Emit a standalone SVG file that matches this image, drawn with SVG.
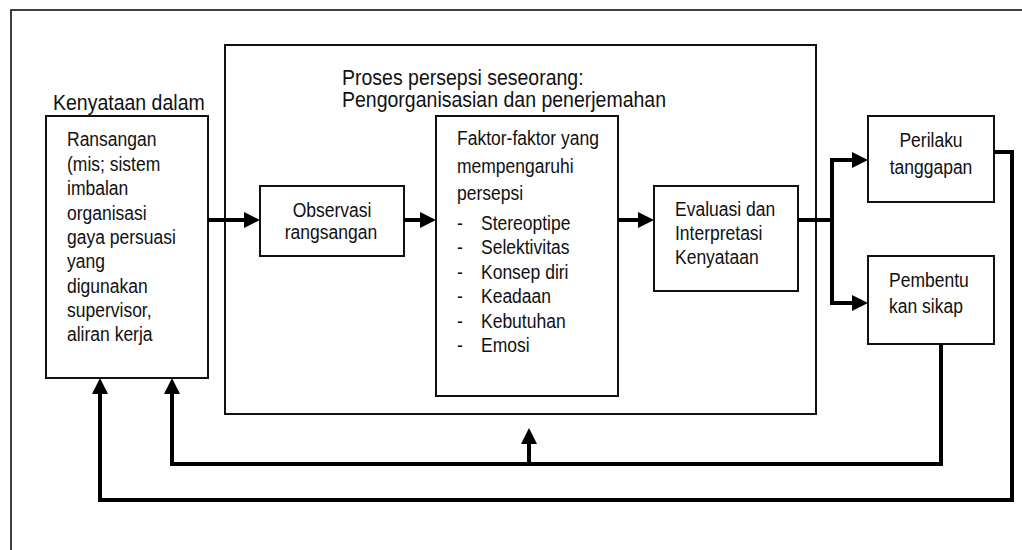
<svg xmlns="http://www.w3.org/2000/svg" width="1022" height="550" viewBox="0 0 1022 550">
<defs>
<style>
.box{fill:#fff;stroke:#111;stroke-width:2}
.frame{fill:none;stroke:#111;stroke-width:1.6}
.t{font-family:"Liberation Sans",Arial,sans-serif;font-size:20px;fill:#111}
.h{font-family:"Liberation Sans",Arial,sans-serif;font-size:21.5px;fill:#111}
.c{fill:none;stroke:#000;stroke-width:4;stroke-linejoin:miter}
.m{text-anchor:middle}
</style>
<marker id="ah" markerUnits="userSpaceOnUse" markerWidth="16" markerHeight="18" refX="0" refY="8" orient="auto" viewBox="0 0 16 16" overflow="visible">
<path d="M0,0 L16,8 L0,16 z" fill="#000"/>
</marker>
</defs>
<rect width="1022" height="550" fill="#fff"/>
<rect class="frame" x="11" y="10" width="1100" height="600"/>

<g id="process">
<rect class="box" x="225" y="45" width="591" height="369"/>
<text class="h" transform="translate(342,85) scale(.907,1)">Proses persepsi seseorang:</text>
<text class="h" transform="translate(342,107) scale(.907,1)">Pengorganisasian dan penerjemahan</text>
</g>

<g id="kenyataan">
<text class="h" transform="translate(53,110) scale(.907,1)">Kenyataan dalam</text>
<rect class="box" x="46" y="116" width="162" height="262"/>
<text class="t" transform="translate(67,146) scale(.875,1)">Ransangan</text>
<text class="t" transform="translate(67,170.5) scale(.875,1)">(mis; sistem</text>
<text class="t" transform="translate(67,195) scale(.875,1)">imbalan</text>
<text class="t" transform="translate(67,219.5) scale(.875,1)">organisasi</text>
<text class="t" transform="translate(67,244) scale(.875,1)">gaya persuasi</text>
<text class="t" transform="translate(67,268) scale(.875,1)">yang</text>
<text class="t" transform="translate(67,292.5) scale(.875,1)">digunakan</text>
<text class="t" transform="translate(67,317) scale(.875,1)">supervisor,</text>
<text class="t" transform="translate(67,341) scale(.875,1)">aliran kerja</text>
</g>

<g id="observasi">
<rect class="box" x="260" y="186" width="144" height="70"/>
<text class="t m" transform="translate(332,216.5) scale(.875,1)">Observasi</text>
<text class="t m" transform="translate(331,239) scale(.875,1)">rangsangan</text>
</g>

<g id="faktor">
<rect class="box" x="436" y="116" width="182" height="280"/>
<text class="t" transform="translate(457,145) scale(.875,1)">Faktor-faktor yang</text>
<text class="t" transform="translate(457,173) scale(.875,1)">mempengaruhi</text>
<text class="t" transform="translate(457,200) scale(.875,1)">persepsi</text>
<text class="t" transform="translate(457,230) scale(.875,1)">-</text><text class="t" transform="translate(481,230) scale(.875,1)">Stereoptipe</text>
<text class="t" transform="translate(457,254) scale(.875,1)">-</text><text class="t" transform="translate(481,254) scale(.875,1)">Selektivitas</text>
<text class="t" transform="translate(457,278.5) scale(.875,1)">-</text><text class="t" transform="translate(481,278.5) scale(.875,1)">Konsep diri</text>
<text class="t" transform="translate(457,303) scale(.875,1)">-</text><text class="t" transform="translate(481,303) scale(.875,1)">Keadaan</text>
<text class="t" transform="translate(457,327.5) scale(.875,1)">-</text><text class="t" transform="translate(481,327.5) scale(.875,1)">Kebutuhan</text>
<text class="t" transform="translate(457,352) scale(.875,1)">-</text><text class="t" transform="translate(481,352) scale(.875,1)">Emosi</text>
</g>

<g id="evaluasi">
<rect class="box" x="654" y="186" width="144" height="105"/>
<text class="t" transform="translate(675,216) scale(.875,1)">Evaluasi dan</text>
<text class="t" transform="translate(675,240) scale(.875,1)">Interpretasi</text>
<text class="t" transform="translate(675,264) scale(.875,1)">Kenyataan</text>
</g>

<g id="perilaku">
<rect class="box" x="868" y="116" width="126" height="86"/>
<text class="t m" transform="translate(931,147) scale(.875,1)">Perilaku</text>
<text class="t m" transform="translate(931,174) scale(.875,1)">tanggapan</text>
</g>

<g id="pembentukan">
<rect class="box" x="868" y="256" width="126" height="88"/>
<text class="t" transform="translate(889,287) scale(.875,1)">Pembentu</text>
<text class="t" transform="translate(889,313) scale(.875,1)">kan sikap</text>
</g>

<g id="connectors">
<path class="c" d="M208,220 H244" marker-end="url(#ah)"/>
<path class="c" d="M404,220 H420" marker-end="url(#ah)"/>
<path class="c" d="M618,220 H638" marker-end="url(#ah)"/>
<path class="c" d="M798,220 H832 V160 H852" marker-end="url(#ah)"/>
<path class="c" d="M832,220 V303 H852" marker-end="url(#ah)"/>
<path class="c" d="M994,152 H1012 V500 H100 V394" marker-end="url(#ah)"/>
<path class="c" d="M941,344 V464 H172 V394" marker-end="url(#ah)"/>
<path class="c" d="M529,464 V444" marker-end="url(#ah)"/>
</g>
</svg>
